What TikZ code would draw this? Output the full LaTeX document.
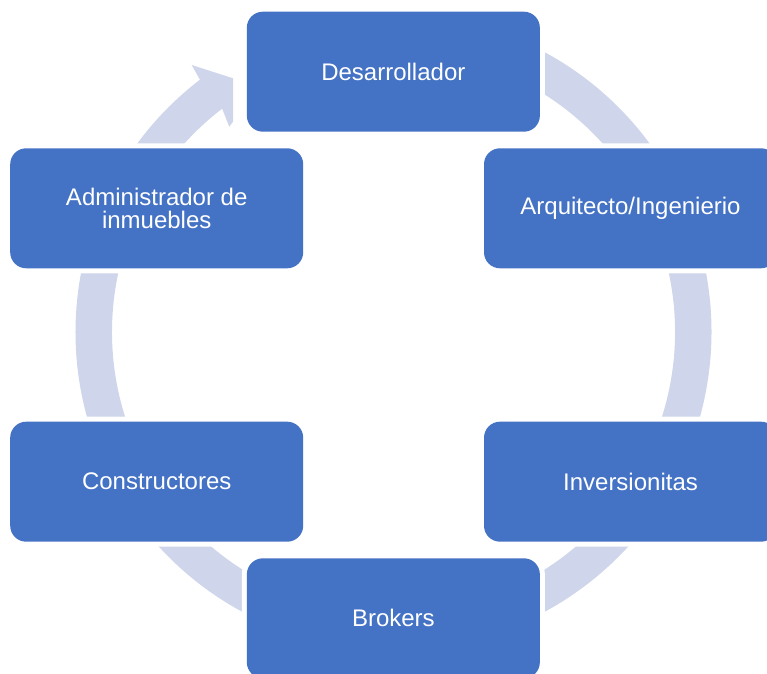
\documentclass[tikz,border=0pt]{standalone}
\usepackage{fontspec}
\setmainfont{Liberation Sans}
\definecolor{boxblue}{HTML}{4472C4}
\definecolor{ringc}{HTML}{CFD5EA}
\tikzset{
  cbox/.style={preaction={draw=white, line width=7.5pt}, fill=boxblue,
    rounded corners=12pt, minimum width=219.75pt, minimum height=90pt,
    inner sep=0pt, text=white, align=center,
    font=\fontsize{18pt}{17.6pt}\selectfont}
}
\begin{document}
\begin{tikzpicture}[x=0.75pt,y=0.75pt]
\useasboundingbox (0,0) rectangle (767,674);
\clip (0,0) rectangle (767,674);
% ring with arrow head
\begin{scope}[shift={(393.5,342)}]
  \fill[ringc] (127.5:318) arc[start angle=127.5, end angle=470, radius=238.5pt]
    -- (470:281.5) arc[start angle=470, end angle=127.5, radius=211.125pt]
    -- (-164.2,205.3) -- (-160.5,210.3) -- (-160.5,253.7) -- (-201.8,267) -- cycle;
\end{scope}
% boxes
\node[cbox] (des) at (393.35,602.3) {Desarrollador};
\node[cbox] (arq) at (630.5,465.7) {Arquitecto/Ingenierio};
\node[cbox] (inv) at (630.5,192.3) {Inversionitas};
\node[cbox] (bro) at (393.35,55.7) {Brokers};
\node[cbox] (con) at (156.7,192.3) {Constructores};
\node[cbox] (adm) at (156.7,465.7) {Administrador de\\inmuebles};
\end{tikzpicture}
\end{document}
